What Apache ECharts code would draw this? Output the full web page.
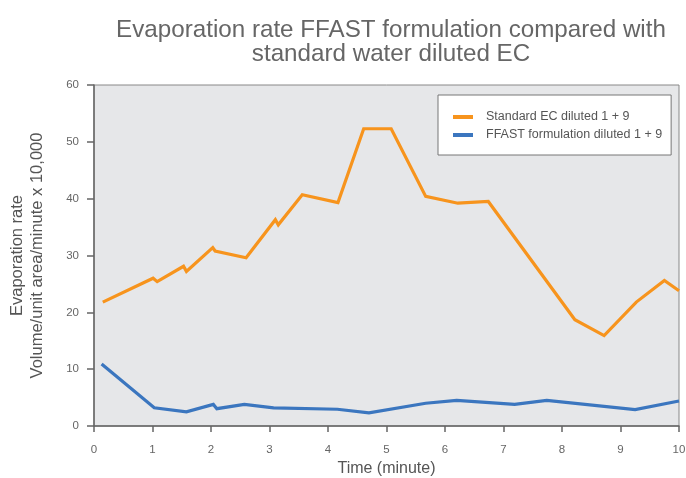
<!DOCTYPE html>
<html>
<head>
<meta charset="utf-8">
<script src="https://cdn.jsdelivr.net/npm/echarts@6/dist/echarts.min.js"></script>
<style>
  html, body { margin: 0; padding: 0; background: #fff; }
  #main { width: 686px; height: 478px; }
</style>
</head>
<body>
<div id="main"></div>
<script>
// time (minute) and rate readings
var ecTimes = [0.15, 1.01, 1.08, 1.53, 1.58, 2.03, 2.07, 2.60, 3.10, 3.15, 3.56, 4.17, 4.61, 5.08, 5.67, 6.22, 6.74, 8.22, 8.72, 9.27, 9.75, 10.0];
var ecRates = [21.8, 26.0, 25.4, 28.1, 27.2, 31.4, 30.8, 29.6, 36.3, 35.4, 40.7, 39.3, 52.3, 52.3, 40.4, 39.2, 39.5, 18.7, 15.9, 21.8, 25.6, 23.8];
var ffastTimes = [0.13, 1.03, 1.58, 2.04, 2.10, 2.57, 3.07, 4.16, 4.70, 5.67, 6.20, 7.19, 7.74, 9.25, 10.0];
var ffastRates = [10.9, 3.2, 2.5, 3.8, 3.05, 3.8, 3.2, 2.95, 2.3, 4.0, 4.5, 3.8, 4.5, 2.9, 4.4];
var seriesNames = ['Standard EC diluted 1 + 9', 'FFAST formulation diluted 1 + 9'];

function pairs(xs, ys) {
    var out = [];
    for (var i = 0; i < xs.length; i++) {
        out.push([xs[i], ys[i]]);
    }
    return out;
}

var font = '"Liberation Sans", Arial, sans-serif';
var chart = echarts.init(document.getElementById('main'));
chart.setOption({
    animation: false,
    textStyle: { fontFamily: font },
    title: {
        text: 'Evaporation rate FFAST formulation compared with\nstandard water diluted EC',
        left: 386,
        top: 13,
        textAlign: 'center',
        textStyle: { fontSize: 24.2, fontWeight: 'normal', color: '#666', lineHeight: 24, fontFamily: font }
    },
    legend: {
        orient: 'vertical',
        left: 438,
        top: 95,
        backgroundColor: '#fff',
        borderColor: '#777',
        borderWidth: 1,
        borderRadius: 0,
        padding: [15, 9, 13, 15],
        itemGap: 4,
        itemWidth: 20,
        itemHeight: 4,
        icon: 'rect',
        textStyle: { fontSize: 12.5, lineHeight: 14, color: '#555', padding: [0, 0, 0, 8], fontFamily: font },
        data: seriesNames
    },
    grid: {
        left: 94,
        right: 7,
        top: 85,
        bottom: 52,
        outerBoundsMode: 'none',
        show: true,
        backgroundColor: '#e6e7e9',
        borderColor: '#888',
        borderWidth: 1
    },
    xAxis: {
        type: 'value',
        min: 0,
        max: 10,
        interval: 1,
        name: 'Time (minute)',
        nameLocation: 'middle',
        nameGap: 35,
        nameTextStyle: { fontSize: 16, color: '#555', fontFamily: font },
        axisLine: { lineStyle: { color: '#666', width: 1.5 } },
        axisTick: { length: 6, lineStyle: { color: '#666', width: 1.5 } },
        axisLabel: { fontSize: 11.5, color: '#666', margin: 18 },
        splitLine: { show: false }
    },
    yAxis: {
        type: 'value',
        min: 0,
        max: 60,
        interval: 10,
        name: 'Evaporation rate\nVolume/unit area/minute x 10,000',
        nameLocation: 'middle',
        nameGap: 47,
        nameTextStyle: { fontSize: 16.5, color: '#555', lineHeight: 20, fontFamily: font },
        axisLine: { show: true, lineStyle: { color: '#666', width: 1.5 } },
        axisTick: { show: true, length: 7, lineStyle: { color: '#666', width: 1.5 } },
        axisLabel: { fontSize: 11.5, color: '#666', margin: 15 },
        splitLine: { show: false }
    },
    series: [
        {
            name: seriesNames[0],
            type: 'line',
            data: pairs(ecTimes, ecRates),
            symbol: 'none',
            color: '#f7941d',
            lineStyle: { width: 3.2, color: '#f7941d', join: 'miter' }
        },
        {
            name: seriesNames[1],
            type: 'line',
            data: pairs(ffastTimes, ffastRates),
            symbol: 'none',
            color: '#3b76bf',
            lineStyle: { width: 3.2, color: '#3b76bf', join: 'miter' }
        }
    ]
});
</script>
</body>
</html>
